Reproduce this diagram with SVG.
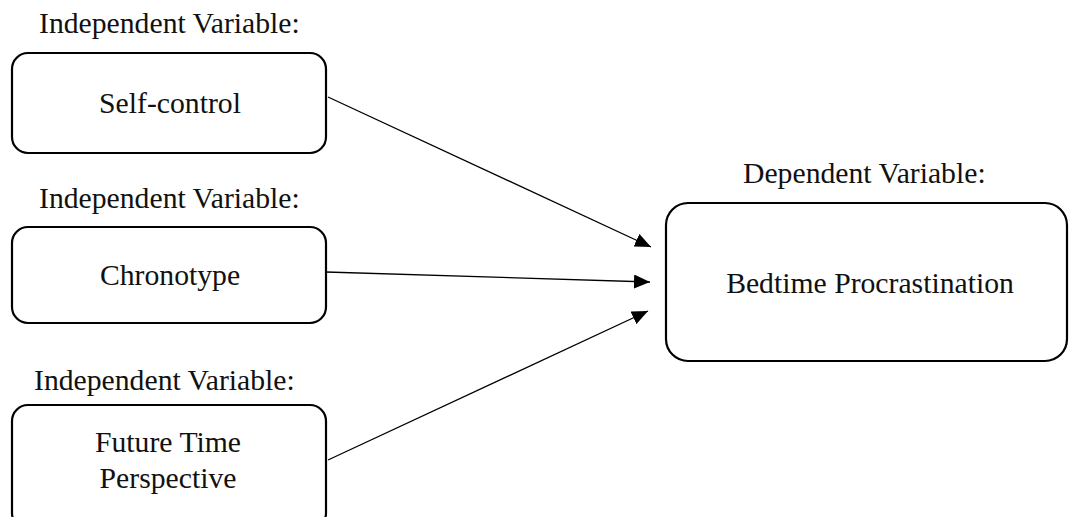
<svg xmlns="http://www.w3.org/2000/svg" width="1069" height="517" viewBox="0 0 1069 517">
<style>
.box{fill:#fff;stroke:#000;stroke-width:2.2}
text{font-family:'Liberation Serif','Times New Roman',Times,serif;font-size:29.7px;fill:#111}
.c{text-anchor:middle}
.conn{stroke:#000;stroke-width:1.3;fill:none}
</style>
<defs>
<marker id="ah" markerWidth="16" markerHeight="14" refX="16" refY="7" orient="auto" markerUnits="userSpaceOnUse" viewBox="0 0 16 14">
<path d="M0,0 L16,7 L0,14 z" fill="#000"/>
</marker>
</defs>
<g id="label-iv1"><text x="39" y="33">Independent Variable:</text></g>
<g id="node-selfcontrol">
<rect class="box" x="12" y="53" width="314" height="100" rx="16"/>
<text class="c" x="170" y="113">Self-control</text>
</g>
<g id="label-iv2"><text x="39" y="208">Independent Variable:</text></g>
<g id="node-chronotype">
<rect class="box" x="12" y="227" width="314" height="96" rx="16"/>
<text class="c" x="170" y="285">Chronotype</text>
</g>
<g id="label-iv3"><text x="34" y="390">Independent Variable:</text></g>
<g id="node-ftp">
<rect class="box" x="12" y="405" width="314" height="124" rx="16"/>
<text class="c" x="168" y="452">Future Time</text>
<text class="c" x="168" y="488">Perspective</text>
</g>
<g id="label-dv"><text x="743" y="183">Dependent Variable:</text></g>
<g id="node-bedtime">
<rect class="box" x="666" y="203" width="401" height="158" rx="22"/>
<text class="c" x="870" y="293">Bedtime Procrastination</text>
</g>
<g id="connectors">
<line class="conn" x1="328" y1="97" x2="651" y2="247" marker-end="url(#ah)"/>
<line class="conn" x1="326" y1="272" x2="650" y2="282" marker-end="url(#ah)"/>
<line class="conn" x1="328" y1="460" x2="648" y2="311" marker-end="url(#ah)"/>
</g>
</svg>
